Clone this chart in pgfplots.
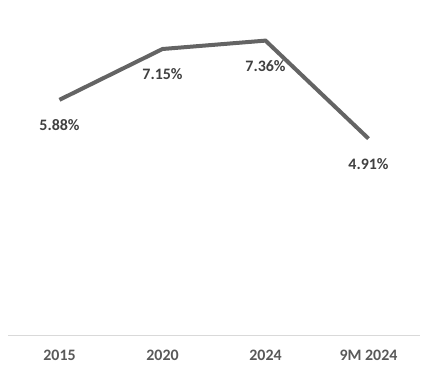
\documentclass[border=0pt]{standalone}
\usepackage{pgfplots}
\pgfplotsset{compat=1.18}
\usepackage{fontspec}
\setmainfont{Carlito}
\definecolor{linegrey}{HTML}{646464}
\definecolor{txtgrey}{HTML}{595959}
\definecolor{lblgrey}{HTML}{404040}
\definecolor{axgrey}{HTML}{D9D9D9}
\begin{document}
\begin{tikzpicture}
\begin{axis}[
  scale only axis,
  width=412bp, height=320bp,
  xmin=-0.5, xmax=3.5,
  ymin=0, ymax=8,
  hide y axis,
  axis x line*=bottom,
  x axis line style={-, draw=axgrey, line width=1bp},
  xtick={0,1,2,3},
  xticklabels={2015,2020,2024,9M 2024},
  xtick style={draw=none},
  xticklabel style={anchor=center, yshift=-20bp, font=\fontsize{16}{19}\selectfont\bfseries, text=txtgrey},
  nodes near coords={\pgfmathprintnumber[fixed,precision=2,fixed zerofill]{\pgfplotspointmeta}\%},
  every node near coord/.append style={anchor=center, yshift=-25bp, font=\fontsize{16}{19}\selectfont\bfseries, text=lblgrey, /pgf/number format/assume math mode=true},
  clip=false,
]
\addplot[linegrey, line width=4bp, mark=none] coordinates {(0,5.88) (1,7.15) (2,7.36) (3,4.91)};
\coordinate (O) at (rel axis cs:0,0);
\end{axis}
\pgfresetboundingbox
\path ([shift={(-8bp,-38bp)}]O) rectangle ([shift={(422bp,335bp)}]O);
\end{tikzpicture}
\end{document}
